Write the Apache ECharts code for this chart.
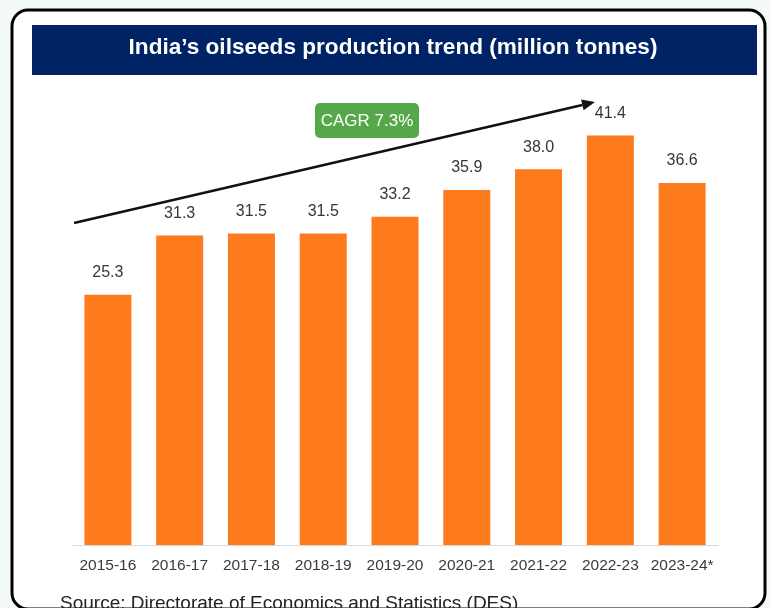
<!DOCTYPE html>
<html>
<head>
<meta charset="utf-8">
<script src="https://cdn.jsdelivr.net/npm/echarts@6/dist/echarts.min.js"></script>
<style>
html,body{margin:0;padding:0;background:#f4faf6;}
#chart{width:771px;height:608px;}
</style>
</head>
<body>
<div id="chart"></div>
<script>
var categories = ['2015-16','2016-17','2017-18','2018-19','2019-20','2020-21','2021-22','2022-23','2023-24*'];
var production = [25.3, 31.3, 31.5, 31.5, 33.2, 35.9, 38.0, 41.4, 36.6];
var titleText = 'India\u2019s oilseeds production trend (million tonnes)';
var cagrText = 'CAGR 7.3%';
var sourceText = 'Source: Directorate of Economics and Statistics (DES)';

var chart = echarts.init(document.getElementById('chart'), null, {renderer:'canvas'});

// arrow annotation geometry
var ax1 = 74, ay1 = 223, ax2 = 595, ay2 = 102;
var ang = Math.atan2(ay2 - ay1, ax2 - ax1);
var hl = 13, hw = 5.5;
var bx = ax2 - hl * Math.cos(ang), by = ay2 - hl * Math.sin(ang);
var head = [
  [ax2, ay2],
  [bx + hw * Math.sin(ang), by - hw * Math.cos(ang)],
  [bx - hw * Math.sin(ang), by + hw * Math.cos(ang)]
];

var option = {
  backgroundColor: '#f4faf6',
  animation: false,
  grid: {left: 72, right: 53, top: 100, bottom: 63, containLabel: false},
  xAxis: {
    type: 'category',
    data: categories,
    axisLine: {show: true, lineStyle: {color: '#d9d9d9', width: 1}},
    axisTick: {show: false},
    axisLabel: {color: '#3a3a3a', fontSize: 15.5, fontFamily: 'Liberation Sans, Arial, sans-serif', margin: 13, interval: 0}
  },
  yAxis: {
    type: 'value', min: 0, max: 45, show: false,
    splitLine: {show: false}
  },
  series: [{
    type: 'bar',
    data: production,
    barWidth: 47,
    itemStyle: {color: '#fd7a1d'},
    label: {
      show: true, position: 'top', distance: 14,
      color: '#363636', fontSize: 16, fontFamily: 'Liberation Sans, Arial, sans-serif',
      formatter: function(p){ return p.value.toFixed(1); }
    },
    z: 3
  }],
  graphic: [
    {type: 'rect', z: -10, shape: {x: 12, y: 10, width: 753, height: 599, r: 16},
     style: {fill: '#ffffff', stroke: '#000000', lineWidth: 3}},
    {type: 'rect', z: -9, shape: {x: 32, y: 25, width: 725, height: 50},
     style: {fill: '#002366'}},
    {type: 'text', z: 10, x: 393, y: 48,
     style: {text: titleText, fill: '#ffffff', font: 'bold 22.6px "Liberation Sans", Arial, sans-serif',
             textAlign: 'center', textVerticalAlign: 'middle'}},
    {type: 'line', z: 10, shape: {x1: ax1, y1: ay1, x2: bx, y2: by},
     style: {stroke: '#111111', lineWidth: 2.5}},
    {type: 'polygon', z: 10, shape: {points: head}, style: {fill: '#111111'}},
    {type: 'rect', z: 10, shape: {x: 315, y: 103, width: 104, height: 35, r: 5},
     style: {fill: '#55a84a'}},
    {type: 'text', z: 11, x: 367, y: 121,
     style: {text: cagrText, fill: '#ffffff', font: '17px "Liberation Sans", Arial, sans-serif',
             textAlign: 'center', textVerticalAlign: 'middle'}},
    {type: 'text', z: 10, x: 60, y: 594,
     style: {text: sourceText, fill: '#222222', font: '19px "Liberation Sans", Arial, sans-serif',
             textAlign: 'left', textVerticalAlign: 'top'}}
  ]
};
chart.setOption(option);
</script>
</body>
</html>
